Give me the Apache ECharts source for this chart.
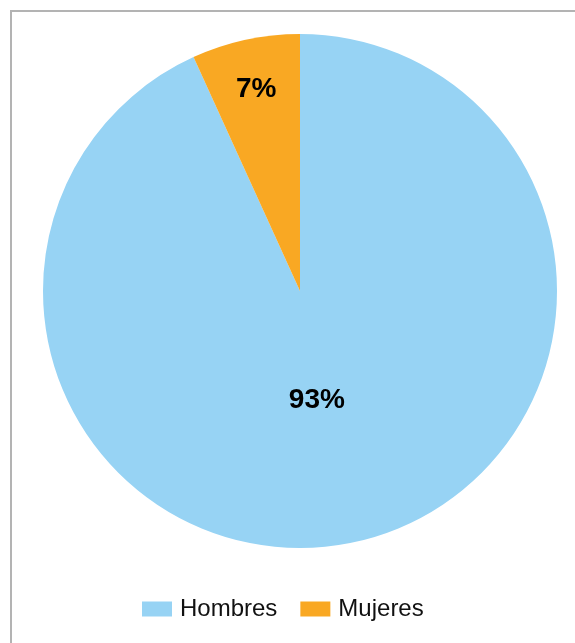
<!DOCTYPE html>
<html>
<head>
<meta charset="utf-8">
<script src="https://cdn.jsdelivr.net/npm/echarts@6/dist/echarts.min.js"></script>
<style>
  html, body { margin: 0; padding: 0; background: #fff; }
  #main { width: 575px; height: 643px; }
</style>
</head>
<body>
<div id="main"></div>
<script>
var categories = ['Hombres', 'Mujeres'];
var values = [93.2, 6.8];
var colors = ['#97D3F4', '#F9A823'];
// per-slice label nudges so labels sit where the original puts them
var labelOffsets = [[-11, -19], [-16, -73]];

var myChart = echarts.init(document.getElementById('main'));

var option = {
    animation: false,
    color: colors,
    graphic: [
        {
            type: 'rect',
            shape: { x: 11, y: 11, width: 700, height: 700 },
            style: { fill: 'none', stroke: '#b3b3b3', lineWidth: 2 }
        }
    ],
    legend: {
        data: categories,
        left: 142,
        top: 597,
        padding: 0,
        itemWidth: 30,
        itemHeight: 15,
        itemGap: 23,
        icon: 'rect',
        textStyle: {
            fontSize: 24,
            color: '#111',
            fontFamily: 'Liberation Sans, Arial, sans-serif',
            padding: [0, 0, 0, 3]
        }
    },
    series: [
        {
            type: 'pie',
            center: [300, 291],
            radius: 257,
            startAngle: 90,
            clockwise: true,
            label: {
                show: true,
                position: 'inside',
                formatter: function (p) {
                    return Math.round(p.percent) + '%';
                },
                fontSize: 28,
                fontWeight: 'bold',
                color: '#000',
                fontFamily: 'Liberation Sans, Arial, sans-serif'
            },
            labelLine: { show: false },
            emphasis: { disabled: true },
            data: categories.map(function (name, i) {
                return {
                    name: name,
                    value: values[i],
                    label: { offset: labelOffsets[i] }
                };
            })
        }
    ]
};

myChart.setOption(option);
</script>
</body>
</html>
